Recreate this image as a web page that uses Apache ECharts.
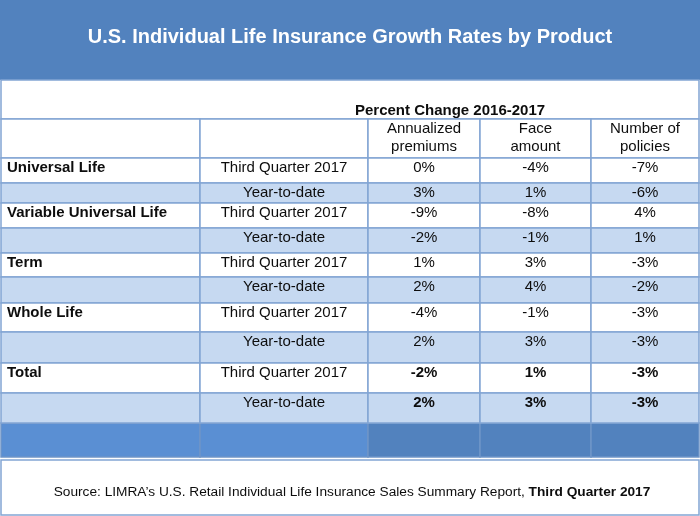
<!DOCTYPE html>
<html><head><meta charset="utf-8">
<script src="https://cdn.jsdelivr.net/npm/echarts@6/dist/echarts.min.js"></script>
<style>html,body{margin:0;padding:0;background:#fff}#c{width:700px;height:516px}</style>
</head><body><div id="c"></div>
<script>
// ---- data ----
const titleText = 'U.S. Individual Life Insurance Growth Rates by Product';
const groupHeader = 'Percent Change 2016-2017';
const metricLabels = ['Annualized\npremiums', 'Face\namount', 'Number of\npolicies'];
const products = ['Universal Life', 'Variable Universal Life', 'Term', 'Whole Life', 'Total'];
const periods = ['Third Quarter 2017', 'Year-to-date'];
// one value per table row: product x period (Q3, YTD)
const annualizedPremiums = [0, 3, -9, -2, 1, 2, -4, 2, -2, 2];
const faceAmount = [-4, 1, -8, -1, 3, 4, -1, 3, 1, 3];
const numberOfPolicies = [-7, -6, 4, 1, -3, -2, -3, -3, -3, -3];
const sourcePlain = 'Source: LIMRA\u2019s U.S. Retail Individual Life Insurance Sales Summary Report, ';
const sourceBold = 'Third Quarter 2017';

// ---- layout (grid space, not data) ----
const FONT = '"Liberation Sans", Arial, Helvetica, sans-serif';
const colEdges = [1, 200, 368, 480, 591, 699];
const rowEdges = [158, 183, 203, 228, 253, 277, 303, 332, 363, 393, 423];
const headTop = 80, headMid = 119, bandBottom = 457, footTop = 460, footBottom = 515;
const BLUE = '#5282BE', BLUE2 = '#5A8FD3', LIGHT = '#C6D9F1', LINE = '#82A5D4', TXT = '#0d0d0d';

const rows = [];
products.forEach((p, pi) => periods.forEach((per, k) => {
  const i = pi * 2 + k;
  rows.push([i, k === 0 ? p : '', per, annualizedPremiums[i], faceAmount[i], numberOfPolicies[i], pi === products.length - 1 ? 1 : 0]);
}));

function rectOf(api, x0, y0, x1, y1) {
  const a = api.coord([x0, y0]), b = api.coord([x1, y1]);
  return { x: Math.min(a[0], b[0]), y: Math.min(a[1], b[1]), width: Math.abs(b[0] - a[0]), height: Math.abs(b[1] - a[1]) };
}
const pct = v => v + '%';

const chart = echarts.init(document.getElementById('c'), null, { renderer: 'canvas' });
chart.setOption({
  animation: false,
  grid: { left: 0, right: 0, top: 0, bottom: 0 },
  xAxis: { type: 'value', min: 0, max: 700, show: false },
  yAxis: { type: 'value', min: 0, max: 516, inverse: true, show: false },
  series: [
    { // frame: title band, header rows, bottom band, footer
      type: 'custom', data: [[0]], silent: true, z: 1,
      renderItem: (params, api) => {
        const ch = [];
        ch.push({ type: 'rect', shape: rectOf(api, 0, 0, 700, headTop), style: { fill: BLUE } });
        const tc = api.coord([350, 37]);
        ch.push({ type: 'text', x: tc[0], y: tc[1], style: { text: titleText, fill: '#fff', font: 'bold 20px ' + FONT, align: 'center', verticalAlign: 'middle' } });
        ch.push({ type: 'rect', shape: rectOf(api, colEdges[0], headTop, colEdges[5], headMid), style: { fill: '#fff', stroke: LINE, lineWidth: 1.5 } });
        const gh = api.coord([355, 111]);
        ch.push({ type: 'text', x: gh[0], y: gh[1], style: { text: groupHeader, fill: TXT, font: 'bold 15px ' + FONT, align: 'left', verticalAlign: 'middle' } });
        for (let c = 0; c < 5; c++) {
          ch.push({ type: 'rect', shape: rectOf(api, colEdges[c], headMid, colEdges[c + 1], rowEdges[0]), style: { fill: '#fff', stroke: LINE, lineWidth: 1.5 } });
          if (c >= 2) {
            const m = api.coord([(colEdges[c] + colEdges[c + 1]) / 2, 138]);
            ch.push({ type: 'text', x: m[0], y: m[1], style: { text: metricLabels[c - 2], fill: TXT, font: '15px ' + FONT, align: 'center', verticalAlign: 'middle', lineHeight: 18 } });
          }
          ch.push({ type: 'rect', shape: rectOf(api, colEdges[c], rowEdges[rowEdges.length - 1], colEdges[c + 1], bandBottom), style: { fill: c < 2 ? BLUE2 : BLUE, stroke: '#6F95C8', lineWidth: 1.5 } });
        }
        ch.push({ type: 'rect', shape: rectOf(api, colEdges[0], footTop, colEdges[5], footBottom), style: { fill: '#fff', stroke: LINE, lineWidth: 1.5 } });
        const sc = api.coord([352, 492]);
        ch.push({ type: 'text', x: sc[0], y: sc[1], style: { text: '{a|' + sourcePlain + '}{b|' + sourceBold + '}', align: 'center', verticalAlign: 'middle',
          rich: { a: { font: '13.7px ' + FONT, fill: TXT }, b: { font: 'bold 13.7px ' + FONT, fill: TXT } } } });
        return { type: 'group', children: ch };
      }
    },
    { // body rows
      type: 'custom', data: rows, silent: true, z: 2,
      renderItem: (params, api) => {
        const i = api.value(0);
        const r = rows[params.dataIndex];
        const y0 = rowEdges[i], y1 = rowEdges[i + 1];
        const fill = i % 2 ? LIGHT : '#fff';
        const ch = [];
        for (let c = 0; c < 5; c++) {
          ch.push({ type: 'rect', shape: rectOf(api, colEdges[c], y0, colEdges[c + 1], y1), style: { fill, stroke: LINE, lineWidth: 1.5 } });
        }
        const ty = y0 + 9.5;
        const p0 = api.coord([colEdges[0] + 6, ty]);
        if (r[1]) ch.push({ type: 'text', x: p0[0], y: p0[1], style: { text: r[1], fill: TXT, font: 'bold 15px ' + FONT, align: 'left', verticalAlign: 'middle' } });
        const p1 = api.coord([(colEdges[1] + colEdges[2]) / 2, ty]);
        ch.push({ type: 'text', x: p1[0], y: p1[1], style: { text: r[2], fill: TXT, font: '15px ' + FONT, align: 'center', verticalAlign: 'middle' } });
        for (let k = 0; k < 3; k++) {
          const p = api.coord([(colEdges[k + 2] + colEdges[k + 3]) / 2, ty]);
          ch.push({ type: 'text', x: p[0], y: p[1], style: { text: pct(r[3 + k]), fill: TXT, font: (r[6] ? 'bold ' : '') + '15px ' + FONT, align: 'center', verticalAlign: 'middle' } });
        }
        return { type: 'group', children: ch };
      }
    }
  ]
});
</script></body></html>
